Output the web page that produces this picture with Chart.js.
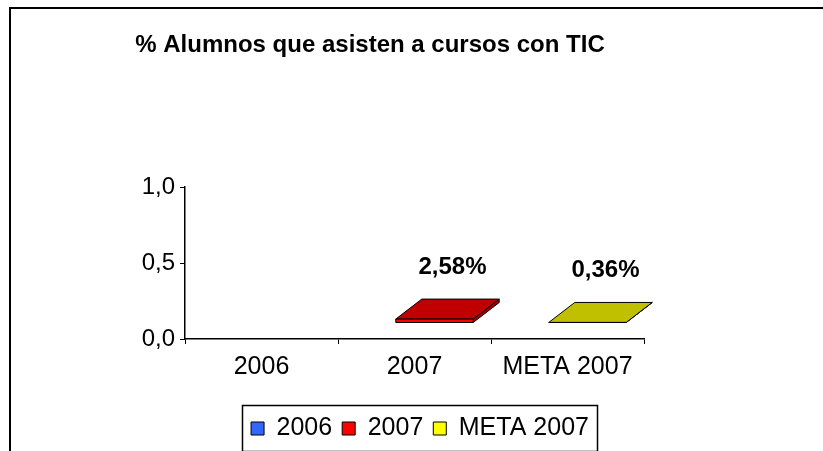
<!DOCTYPE html>
<html>
<head>
<meta charset="utf-8">
<script src="https://cdn.jsdelivr.net/npm/chart.js@4/dist/chart.umd.min.js"></script>
<style>
  html, body { margin: 0; padding: 0; background: #fff; overflow: hidden; }
  #frame {
    position: absolute; left: 9px; top: 7px; width: 900px; height: 500px;
    border-left: 2px solid #000; border-top: 2px solid #000;
  }
  #wrap { position: absolute; left: 0; top: 0; width: 823px; height: 451px; }
</style>
</head>
<body>
<div id="frame"></div>
<div id="wrap"><canvas id="chart" width="823" height="451"></canvas></div>
<script>
// Data
const categories = ['2006', '2007', 'META 2007'];
const seriesNames = ['2006', '2007', 'META 2007'];
const values = [null, 0.0258, 0.0036];
const yTicks = [0, 0.5, 1];

// Colours: legend / front face, top face, side face
const frontColors = ['#3366FF', '#FF0000', '#FFFF00'];
const topColors = ['#2040C0', '#C00000', '#C0C000'];
const sideColors = ['#183090', '#A00000', '#A0A000'];

const FONT = '"Liberation Sans", Arial, sans-serif';
Chart.defaults.font.family = FONT;
Chart.defaults.color = '#000';

// 3D offsets (front face shift from axis, then depth of the slab)
const front = { dx: 20, dy: -16 };
const depth = { dx: 26, dy: -20 };

const datasets = seriesNames.map((name, i) => ({
    label: name,
    data: categories.map((c, j) => (j === i ? values[i] : null)),
    backgroundColor: frontColors[i],
    borderColor: '#000',
    borderWidth: 1,
    skipNull: true
}));

function formatPct(v) {
    return (v * 100).toFixed(2).replace('.', ',') + '%';
}

const bars3d = {
    id: 'bars3d',
    beforeDatasetsDraw(chart) {
        const ctx = chart.ctx;
        ctx.save();
        ctx.lineWidth = 1;
        ctx.strokeStyle = '#000';
        chart.data.datasets.forEach((ds, i) => {
            const meta = chart.getDatasetMeta(i);
            meta.data.forEach((el, j) => {
                const v = ds.data[j];
                if (v === null || v === undefined) return;
                const l = el.x - el.width / 2 + front.dx;
                const r = el.x + el.width / 2 + front.dx;
                const t = el.y + front.dy;
                const b = el.base + front.dy;

                // side face
                ctx.beginPath();
                ctx.moveTo(r, t);
                ctx.lineTo(r + depth.dx, t + depth.dy);
                ctx.lineTo(r + depth.dx, b + depth.dy);
                ctx.lineTo(r, b);
                ctx.closePath();
                ctx.fillStyle = sideColors[i];
                ctx.fill();
                ctx.stroke();

                // top face
                ctx.beginPath();
                ctx.moveTo(l, t);
                ctx.lineTo(r, t);
                ctx.lineTo(r + depth.dx, t + depth.dy);
                ctx.lineTo(l + depth.dx, t + depth.dy);
                ctx.closePath();
                ctx.fillStyle = topColors[i];
                ctx.fill();
                ctx.stroke();

                // front face
                ctx.beginPath();
                ctx.rect(l, t, r - l, b - t);
                ctx.fillStyle = frontColors[i];
                ctx.fill();
                ctx.stroke();

                // value label
                ctx.fillStyle = '#000';
                ctx.font = 'bold 24px ' + FONT;
                ctx.textAlign = 'center';
                ctx.textBaseline = 'middle';
                ctx.fillText(formatPct(v), el.x + front.dx + depth.dx / 2 + 5, t - 52);
            });
        });
        ctx.restore();
        return false;
    }
};

const extras = {
    id: 'extras',
    afterDraw(chart) {
        const ctx = chart.ctx;
        ctx.save();
        // title
        ctx.fillStyle = '#000';
        ctx.font = 'bold 24px ' + FONT;
        ctx.textAlign = 'center';
        ctx.textBaseline = 'alphabetic';
        ctx.fillText('% Alumnos que asisten a cursos con TIC', 370, 52);

        // legend border
        const boxes = chart.legend.legendHitBoxes;
        if (boxes && boxes.length) {
            const first = boxes[0];
            const last = boxes[boxes.length - 1];
            const x0 = Math.round(first.left - 9) + 0.5;
            const x1 = Math.round(last.left + last.width + 8) + 0.5;
            const y0 = Math.round(first.top - 11) + 0.5;
            const y1 = Math.round(first.top + first.height + 10) + 0.5;
            ctx.strokeStyle = '#000';
            ctx.lineWidth = 1.5;
            ctx.strokeRect(x0, y0, x1 - x0, y1 - y0);
        }
        ctx.restore();
    }
};

new Chart(document.getElementById('chart'), {
    type: 'bar',
    data: { labels: categories, datasets: datasets },
    options: {
        responsive: false,
        animation: false,
        categoryPercentage: 1,
        barPercentage: 0.506,
        layout: { padding: { left: 17, right: 0, top: 187, bottom: 0 } },
        plugins: {
            title: { display: false },
            tooltip: { enabled: false },
            legend: {
                position: 'bottom',
                labels: {
                    boxWidth: 13,
                    boxHeight: 13,
                    padding: 10,
                    color: '#000',
                    font: { size: 25 }
                }
            }
        },
        scales: {
            x: {
                grid: { display: true, drawOnChartArea: false, drawTicks: true, tickLength: 5, color: '#000', offset: true },
                border: { display: true, color: '#000', width: 1.5 },
                ticks: { font: { size: 25 }, padding: 8, maxRotation: 0, autoSkip: false, color: '#000' },
                afterFit(s) { s.height = 67; }
            },
            y: {
                min: 0,
                max: 1,
                afterBuildTicks(s) { s.ticks = yTicks.map(v => ({ value: v })); },
                grid: { display: true, drawOnChartArea: false, drawTicks: true, tickLength: 5, color: '#000' },
                border: { display: true, color: '#000', width: 1.5 },
                ticks: {
                    font: { size: 24 },
                    padding: 5,
                    color: '#000',
                    callback: v => v.toFixed(1).replace('.', ',')
                },
                afterFit(s) { s.width = 168; }
            },
            y2: {
                position: 'right',
                display: true,
                grid: { display: false },
                border: { display: false },
                ticks: { display: false },
                afterFit(s) { s.width = 179; }
            }
        }
    },
    plugins: [bars3d, extras]
});
</script>
</body>
</html>
